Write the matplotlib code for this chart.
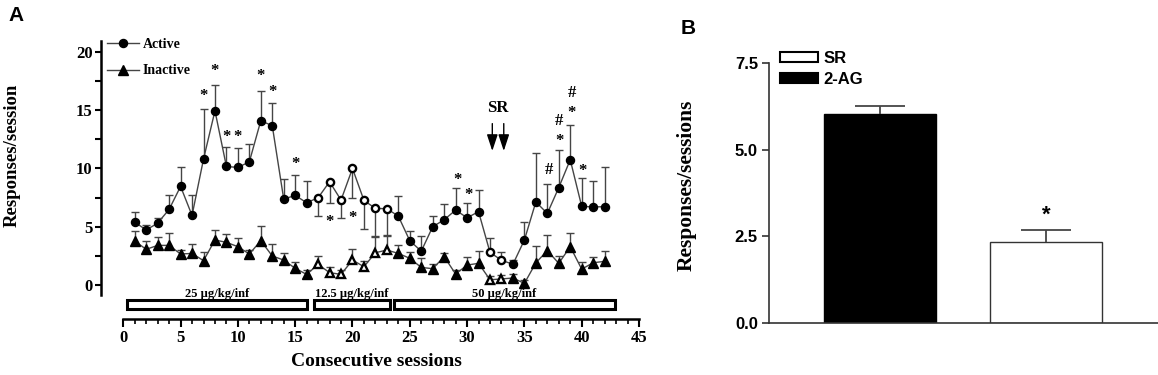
import numpy as np
import matplotlib
matplotlib.use("Agg")
import matplotlib.pyplot as plt
from matplotlib.patches import Rectangle
from matplotlib.lines import Line2D
from matplotlib.patches import Patch

# ---------------- data ----------------
sessions = list(range(1, 43))
active_mean = [5.40, 4.72, 5.31, 6.49, 8.46, 5.97, 10.80, 14.95, 10.17, 10.09,
               10.57, 14.10, 13.67, 7.37, 7.69, 7.06, 7.49, 8.86, 7.29, 10.00,
               7.26, 6.57, 6.55, 5.91, 3.80, 2.90, 5.00, 5.60, 6.43, 5.77,
               6.29, 2.80, 2.12, 1.78, 3.86, 7.13, 6.14, 8.36, 10.75, 6.75,
               6.70, 6.72]
active_err = [0.90, 0.40, 0.40, 1.20, 1.68, 1.77, 4.29, 2.24, 1.69, 1.71,
              1.57, 2.57, 1.99, 1.69, 1.77, 1.83, 1.58, 1.86, 1.52, 2.57,
              2.49, 2.37, 2.26, 1.72, 0.86, 1.33, 0.91, 1.37, 1.86, 1.29,
              1.85, 1.20, 0.67, 0.40, 1.57, 4.23, 2.52, 3.21, 3.01, 2.44,
              2.25, 3.38]
inactive_mean = [3.77, 3.06, 3.40, 3.40, 2.66, 2.71, 2.09, 3.86, 3.66, 3.29,
                 2.66, 3.80, 2.49, 2.14, 1.43, 0.91, 1.77, 1.06, 0.91, 2.14,
                 1.57, 2.77, 3.00, 2.71, 2.29, 1.51, 1.40, 2.43, 0.94, 1.71,
                 1.86, 0.45, 0.52, 0.60, 0.14, 1.90, 2.95, 1.86, 3.29, 1.36,
                 1.91, 2.03]
inactive_err = [0.89, 0.74, 0.74, 1.09, 0.34, 0.80, 0.71, 0.85, 0.71, 0.71,
                0.35, 1.29, 1.00, 0.57, 0.57, 0.35, 0.74, 0.51, 0.38, 0.92,
                0.52, 1.37, 1.23, 0.72, 0.57, 0.83, 0.40, 0.34, 0.35, 0.72,
                1.08, 0.35, 0.35, 0.35, 0.30, 1.47, 1.30, 0.65, 1.20, 0.64,
                0.52, 0.91]
open_sessions = [17, 18, 19, 20, 21, 22, 23, 32, 33]
lower_err_active = [17, 18, 19, 20, 21, 22, 23]

dose_labels = ["25 \u00b5g/kg/inf", "12.5 \u00b5g/kg/inf", "50 \u00b5g/kg/inf"]
dose_ranges = [(0.3, 16.0), (16.6, 23.3), (23.6, 42.9)]

sig_marks = [(7, 16.6, "*"), (8, 18.7, "*"), (9, 13.05, "*"), (10, 13.05, "*"),
             (12, 18.3, "*"), (13, 16.95, "*"), (15, 10.7, "*"), (18, 5.8, "*"),
             (20, 6.15, "*"), (29.15, 9.35, "*"), (30.1, 8.05, "*"),
             (37.1, 9.9, "#"), (38.05, 12.7, "*"), (38.05, 14.1, "#"),
             (39.15, 15.15, "*"), (39.15, 16.45, "#"), (40.1, 10.15, "*")]
sr_arrow_sessions = [32.2, 33.2]

b_labels = ["2-AG", "SR"]
b_values = [6.02, 2.33]
b_err = [0.23, 0.36]

# ---------------- figure ----------------
W, H = 1158, 375
fig = plt.figure(figsize=(W / 100, H / 100), dpi=100)
SERIF = ["Liberation Serif", "DejaVu Serif"]
SANS = ["Liberation Sans", "DejaVu Sans"]
GREY = "#454545"

axA = fig.add_axes([101 / W, 1 - 319 / H, (639 - 101) / W, (319 - 41) / H])
axA.set_xlim(-1.944, 45)
axA.set_ylim(-2.918, 20.94)
for s in ["top", "right"]:
    axA.spines[s].set_visible(False)
axA.spines["left"].set_bounds(-0.86, 20.94)
axA.spines["bottom"].set_bounds(0, 45)
for s in ["left", "bottom"]:
    axA.spines[s].set_linewidth(1.8)
axA.set_yticks([0, 5, 10, 15, 20])
axA.set_yticks(np.arange(0, 21, 2.5), minor=True)
axA.set_xticks(np.arange(0, 46, 5))
axA.set_xticks(np.arange(0, 46, 1), minor=True)
axA.tick_params(axis="y", which="both", length=4, width=1.5, direction="out", pad=2)
axA.tick_params(axis="x", which="major", length=6, width=1.5, direction="out", pad=2)
axA.tick_params(axis="x", which="minor", length=3.5, width=1.2, direction="out")
for lab in axA.get_xticklabels() + axA.get_yticklabels():
    lab.set_fontfamily(SERIF)
    lab.set_fontweight("bold")
    lab.set_fontsize(12)

x = np.array(sessions, dtype=float)
am = np.array(active_mean)
ae = np.array(active_err)
im = np.array(inactive_mean)
ie = np.array(inactive_err)
is_open = np.isin(x, open_sessions)
is_low = np.isin(x, lower_err_active)

cap_ms = 6.0
# error bars (one-sided)
a_end = np.where(is_low, am - ae, am + ae)
axA.vlines(x, am, a_end, color=GREY, lw=1.0, zorder=1)
axA.plot(x, a_end, ls="none", marker="_", ms=cap_ms, mew=1.0, color=GREY, zorder=1)
i_end = im + ie
axA.vlines(x, im, i_end, color=GREY, lw=1.0, zorder=1)
axA.plot(x, i_end, ls="none", marker="_", ms=cap_ms, mew=1.0, color=GREY, zorder=1)

# connecting lines
axA.plot(x, am, color=GREY, lw=1.0, zorder=2)
axA.plot(x, im, color=GREY, lw=1.0, zorder=2)

# markers
axA.plot(x[~is_open], am[~is_open], ls="none", marker="o", ms=5.8,
         mfc="black", mec="black", zorder=3)
axA.plot(x[is_open], am[is_open], ls="none", marker="o", ms=5.2,
         mfc="white", mec="black", mew=1.7, zorder=3)
axA.plot(x[~is_open], im[~is_open], ls="none", marker="^", ms=6.8,
         mfc="black", mec="black", zorder=3)
axA.plot(x[is_open], im[is_open], ls="none", marker="^", ms=6.2,
         mfc="white", mec="black", mew=1.7, zorder=3)

# significance marks
for sx, sy, sym in sig_marks:
    off = -3.0 if sym == "*" else 0.0
    axA.annotate(sym, (sx, sy), xytext=(0, off), textcoords="offset points",
                 ha="center", va="center", fontsize=12, fontweight="bold",
                 family=SERIF, zorder=5)

# SR arrows
axA.text(32.65, 15.2, "SR", ha="center", va="center", fontsize=12,
         fontweight="bold", family=SERIF)
for sx in sr_arrow_sessions:
    axA.annotate("", xy=(sx, 11.5), xytext=(sx, 13.85),
                 arrowprops=dict(arrowstyle="-|>,head_length=1.0,head_width=0.33",
                                 color="black", lw=1.0, mutation_scale=10,
                                 shrinkA=0, shrinkB=0))

# dose boxes
for (x0, x1), lab in zip(dose_ranges, dose_labels):
    axA.add_patch(Rectangle((x0, -2.10), x1 - x0, 0.77, facecolor="white",
                            edgecolor="black", lw=2.2, clip_on=False, zorder=4))
    axA.text((x0 + x1) / 2, -0.78, lab, ha="center", va="center", fontsize=9,
             fontweight="bold", family=SERIF)

# legend A
hA = [Line2D([], [], color=GREY, lw=1.0, marker="o", ms=5.8, mfc="black", mec="black"),
      Line2D([], [], color=GREY, lw=1.0, marker="^", ms=6.8, mfc="black", mec="black")]
axA.legend(hA, ["Active", "Inactive"], loc="upper left",
           bbox_to_anchor=(0.0, 1.03), frameon=False, numpoints=1,
           handlelength=2.3, handletextpad=0.3, labelspacing=0.95,
           borderaxespad=0.0, prop=dict(family=SERIF, weight="bold", size=10))

axA.set_ylabel("Responses/session", fontsize=13.5, fontweight="bold", family=SERIF)
axA.yaxis.set_label_coords(-0.150, 0.59)
axA.set_xlabel("Consecutive sessions", fontsize=14, fontweight="bold", family=SERIF)
axA.xaxis.set_label_coords(0.512, -0.124)

# ---------------- panel B ----------------
axB = fig.add_axes([769 / W, 1 - 323 / H, (1158 - 769) / W, (323 - 63) / H])
xb = np.arange(len(b_labels))
axB.set_xlim(-0.667, 1.67)
axB.set_ylim(0, 7.5)
colors = ["black", "white"]
axB.bar(xb, b_values, width=0.673, color=colors, edgecolor=["black", "#333333"],
        lw=1.0, zorder=2)
vb = np.array(b_values)
eb = np.array(b_err)
axB.vlines(xb, vb, vb + eb, color=GREY, lw=1.3, zorder=3)
axB.plot(xb, vb + eb, ls="none", marker="_", ms=36, mew=1.3, color=GREY, zorder=3)
axB.text(1, 3.12, "*", ha="center", va="center", fontsize=16, fontweight="bold",
         family=SANS)
for s in ["top", "right"]:
    axB.spines[s].set_visible(False)
for s in ["left", "bottom"]:
    axB.spines[s].set_linewidth(1.2)
    axB.spines[s].set_color("#333333")
axB.set_xticks([])
axB.set_yticks([0, 2.5, 5.0, 7.5])
axB.set_yticklabels(["0.0", "2.5", "5.0", "7.5"])
axB.tick_params(axis="y", length=5, width=1.2, color="#333333", pad=3)
for lab in axB.get_yticklabels():
    lab.set_fontfamily(SANS)
    lab.set_fontweight("bold")
    lab.set_fontsize(12)
axB.set_ylabel("Responses/sessions", fontsize=15.5, fontweight="bold", family=SERIF)
axB.yaxis.set_label_coords(-0.187, 0.529)
hB = [Patch(facecolor="white", edgecolor="black", lw=1.5),
      Patch(facecolor="black", edgecolor="black", lw=1.5)]
axB.legend(hB, ["SR", "2-AG"], loc="upper left", bbox_to_anchor=(0.01, 1.072),
           frameon=False, handlelength=2.3, handleheight=0.6, handletextpad=0.35,
           labelspacing=0.35, borderaxespad=0.0,
           prop=dict(family=SANS, weight="bold", size=12))

# panel letters
fig.text(8 / W, 1 - 6 / H, "A", ha="left", va="top", fontsize=15,
         fontweight="bold", family=SANS)
fig.text(681 / W, 1 - 19 / H, "B", ha="left", va="top", fontsize=15,
         fontweight="bold", family=SANS)

fig.savefig("out.png", dpi=100)
